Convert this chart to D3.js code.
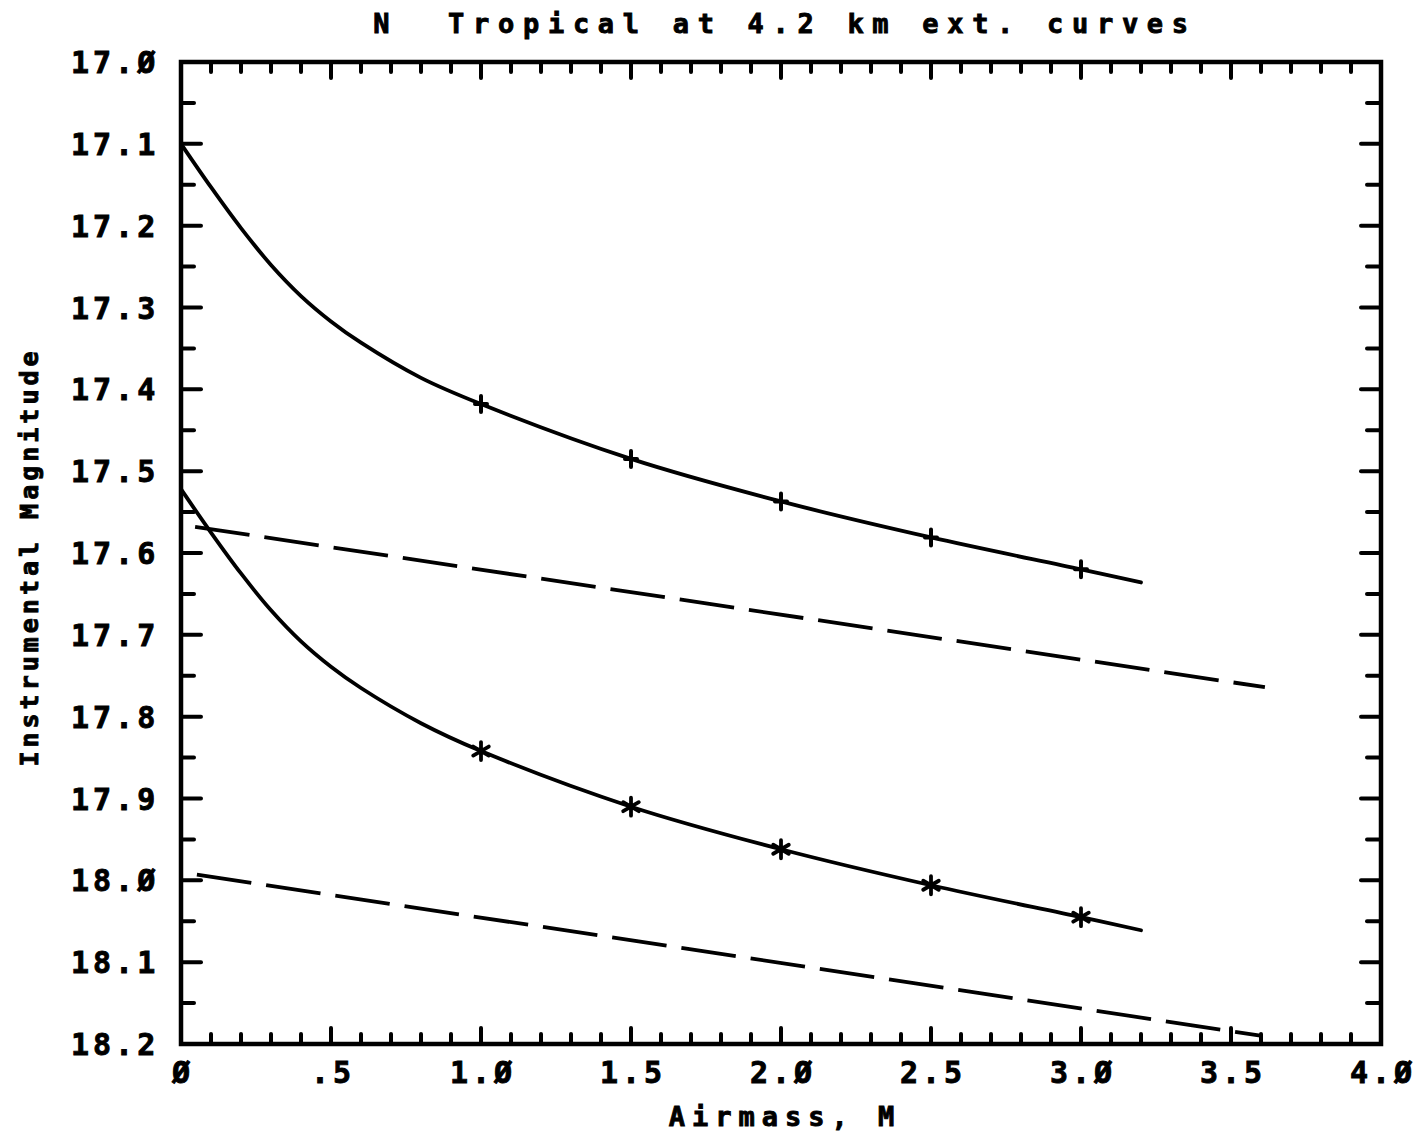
<!DOCTYPE html>
<html>
<head>
<meta charset="utf-8">
<script src="https://cdn.jsdelivr.net/npm/d3@7"></script>
<style>
  html, body { margin: 0; padding: 0; background: #fff; }
  svg text { font-family: "DejaVu Sans Mono", "Liberation Mono", monospace; font-weight: bold; fill: #000; stroke: #000; stroke-width: 0.9px; white-space: pre; }
</style>
</head>
<body>
<svg id="chart" width="1426" height="1134"></svg>
<script>
// ---- data ----
const titleText = "N  Tropical at 4.2 km ext. curves";
const xLabel = "Airmass, M";
const yLabel = "Instrumental Magnitude";

const xTickValues = [0, 0.5, 1.0, 1.5, 2.0, 2.5, 3.0, 3.5, 4.0];
const xTickLabels = ["Ø", ".5", "1.Ø", "1.5", "2.Ø", "2.5", "3.Ø", "3.5", "4.Ø"];
const yTickValues = [17.0, 17.1, 17.2, 17.3, 17.4, 17.5, 17.6, 17.7, 17.8, 17.9, 18.0, 18.1, 18.2];
const yTickLabels = ["17.Ø", "17.1", "17.2", "17.3", "17.4", "17.5", "17.6", "17.7", "17.8", "17.9", "18.Ø", "18.1", "18.2"];

// solid extinction curves
const curveAirmass = [0, 0.1, 0.2, 0.3, 0.4, 0.5, 0.6, 0.8, 1.0, 1.5, 2.0, 2.5, 3.0, 3.2];
const upperCurveMag = [17.100, 17.153, 17.203, 17.248, 17.286, 17.317, 17.343, 17.386, 17.418, 17.485, 17.537, 17.581, 17.620, 17.636];
const lowerCurveMag = [17.522, 17.575, 17.625, 17.670, 17.708, 17.739, 17.765, 17.808, 17.842, 17.910, 17.962, 18.006, 18.045, 18.061];

// markers on curves
const markerAirmass = [1.0, 1.5, 2.0, 2.5, 3.0];
const upperMarkerMag = [17.418, 17.485, 17.537, 17.581, 17.620];
const lowerMarkerMag = [17.842, 17.910, 17.962, 18.006, 18.045];

// dashed straight lines
const upperDashAirmass = [0.047, 3.613];
const upperDashMag = [17.568, 17.764];
const lowerDashAirmass = [0.053, 3.603];
const lowerDashMag = [17.993, 18.190];

// ---- layout ----
const svg = d3.select("#chart");
const L = 181, R = 1381, T = 62, B = 1044;
const x = d3.scaleLinear().domain([0, 4]).range([L, R]);
const y = d3.scaleLinear().domain([17.0, 18.2]).range([T, B]);

// title
svg.append("text")
  .attr("x", 785).attr("y", 33)
  .attr("text-anchor", "middle")
  .attr("xml:space", "preserve")
  .style("font-size", "27px")
  .style("letter-spacing", "8.7px")
  .text(titleText);

// frame
svg.append("rect")
  .attr("x", L).attr("y", T).attr("width", R - L).attr("height", B - T)
  .attr("fill", "none").attr("stroke", "#000").attr("stroke-width", 4.5);

// ticks
const tickG = svg.append("g").attr("stroke", "#000").attr("stroke-width", 4).attr("stroke-linecap", "round");
const xMinor = d3.range(1, 40).map(i => i / 10);
xMinor.forEach(v => {
  const major = Math.abs(v * 2 - Math.round(v * 2)) < 1e-6;
  const len = major ? 16 : 10;
  tickG.append("line").attr("x1", x(v)).attr("x2", x(v)).attr("y1", T).attr("y2", T + len);
  tickG.append("line").attr("x1", x(v)).attr("x2", x(v)).attr("y1", B).attr("y2", B - len);
});
const yMinor = d3.range(1, 24).map(i => 17 + i * 0.05);
yMinor.forEach((v, i) => {
  const major = (i + 1) % 2 === 0;
  tickG.append("line").attr("x1", L).attr("x2", L + (major ? 20 : 13)).attr("y1", y(v)).attr("y2", y(v));
  tickG.append("line").attr("x1", R).attr("x2", R - (major ? 20 : 14)).attr("y1", y(v)).attr("y2", y(v));
});

// tick labels
svg.append("g").selectAll("text").data(yTickValues).join("text")
  .attr("x", 71).attr("y", d => y(d) + 11)
  .style("font-size", "30px")
  .style("letter-spacing", "4px")
  .text((d, i) => yTickLabels[i]);

svg.append("g").selectAll("text").data(xTickValues).join("text")
  .attr("x", d => x(d) + 2).attr("y", 1083)
  .attr("text-anchor", "middle")
  .style("font-size", "30px")
  .style("letter-spacing", "4px")
  .text((d, i) => xTickLabels[i]);

// axis titles
svg.append("text")
  .attr("x", 785).attr("y", 1126)
  .attr("text-anchor", "middle")
  .style("font-size", "27px")
  .style("letter-spacing", "7px")
  .text(xLabel);

svg.append("text")
  .attr("transform", "translate(38,557) rotate(-90)")
  .attr("text-anchor", "middle")
  .style("font-size", "25px")
  .style("letter-spacing", "4px")
  .text(yLabel);

// curves
const line = d3.line().x(d => x(d[0])).y(d => y(d[1])).curve(d3.curveCatmullRom.alpha(0.5));
const straight = d3.line().x(d => x(d[0])).y(d => y(d[1]));

const plot = svg.append("g").attr("fill", "none").attr("stroke", "#000").attr("stroke-linecap", "round");

plot.append("path").attr("stroke-width", 3.8)
  .attr("d", line(curveAirmass.map((a, i) => [a, upperCurveMag[i]])));
plot.append("path").attr("stroke-width", 3.8)
  .attr("d", line(curveAirmass.map((a, i) => [a, lowerCurveMag[i]])));

plot.append("path").attr("stroke-width", 3.8).attr("stroke-dasharray", "55,15").attr("stroke-linecap", "butt")
  .attr("d", straight(upperDashAirmass.map((a, i) => [a, upperDashMag[i]])));
plot.append("path").attr("stroke-width", 3.8).attr("stroke-dasharray", "55,15").attr("stroke-linecap", "butt")
  .attr("d", straight(lowerDashAirmass.map((a, i) => [a, lowerDashMag[i]])));

// plus markers
markerAirmass.forEach((a, i) => {
  const cx = x(a), cy = y(upperMarkerMag[i]);
  plot.append("path").attr("stroke-width", 4)
    .attr("d", `M${cx},${cy - 8}L${cx},${cy + 8}M${cx - 6},${cy}L${cx + 6},${cy}`);
});
// asterisk markers
markerAirmass.forEach((a, i) => {
  const cx = x(a), cy = y(lowerMarkerMag[i]);
  const r = 9;
  let d = `M${cx},${cy - r}L${cx},${cy + r}`;
  [30, -30].forEach(deg => {
    const t = deg * Math.PI / 180;
    const dx = r * Math.cos(t), dy = r * Math.sin(t);
    d += `M${cx - dx},${cy - dy}L${cx + dx},${cy + dy}`;
  });
  plot.append("path").attr("stroke-width", 3.8).attr("d", d);
});
</script>
</body>
</html>
